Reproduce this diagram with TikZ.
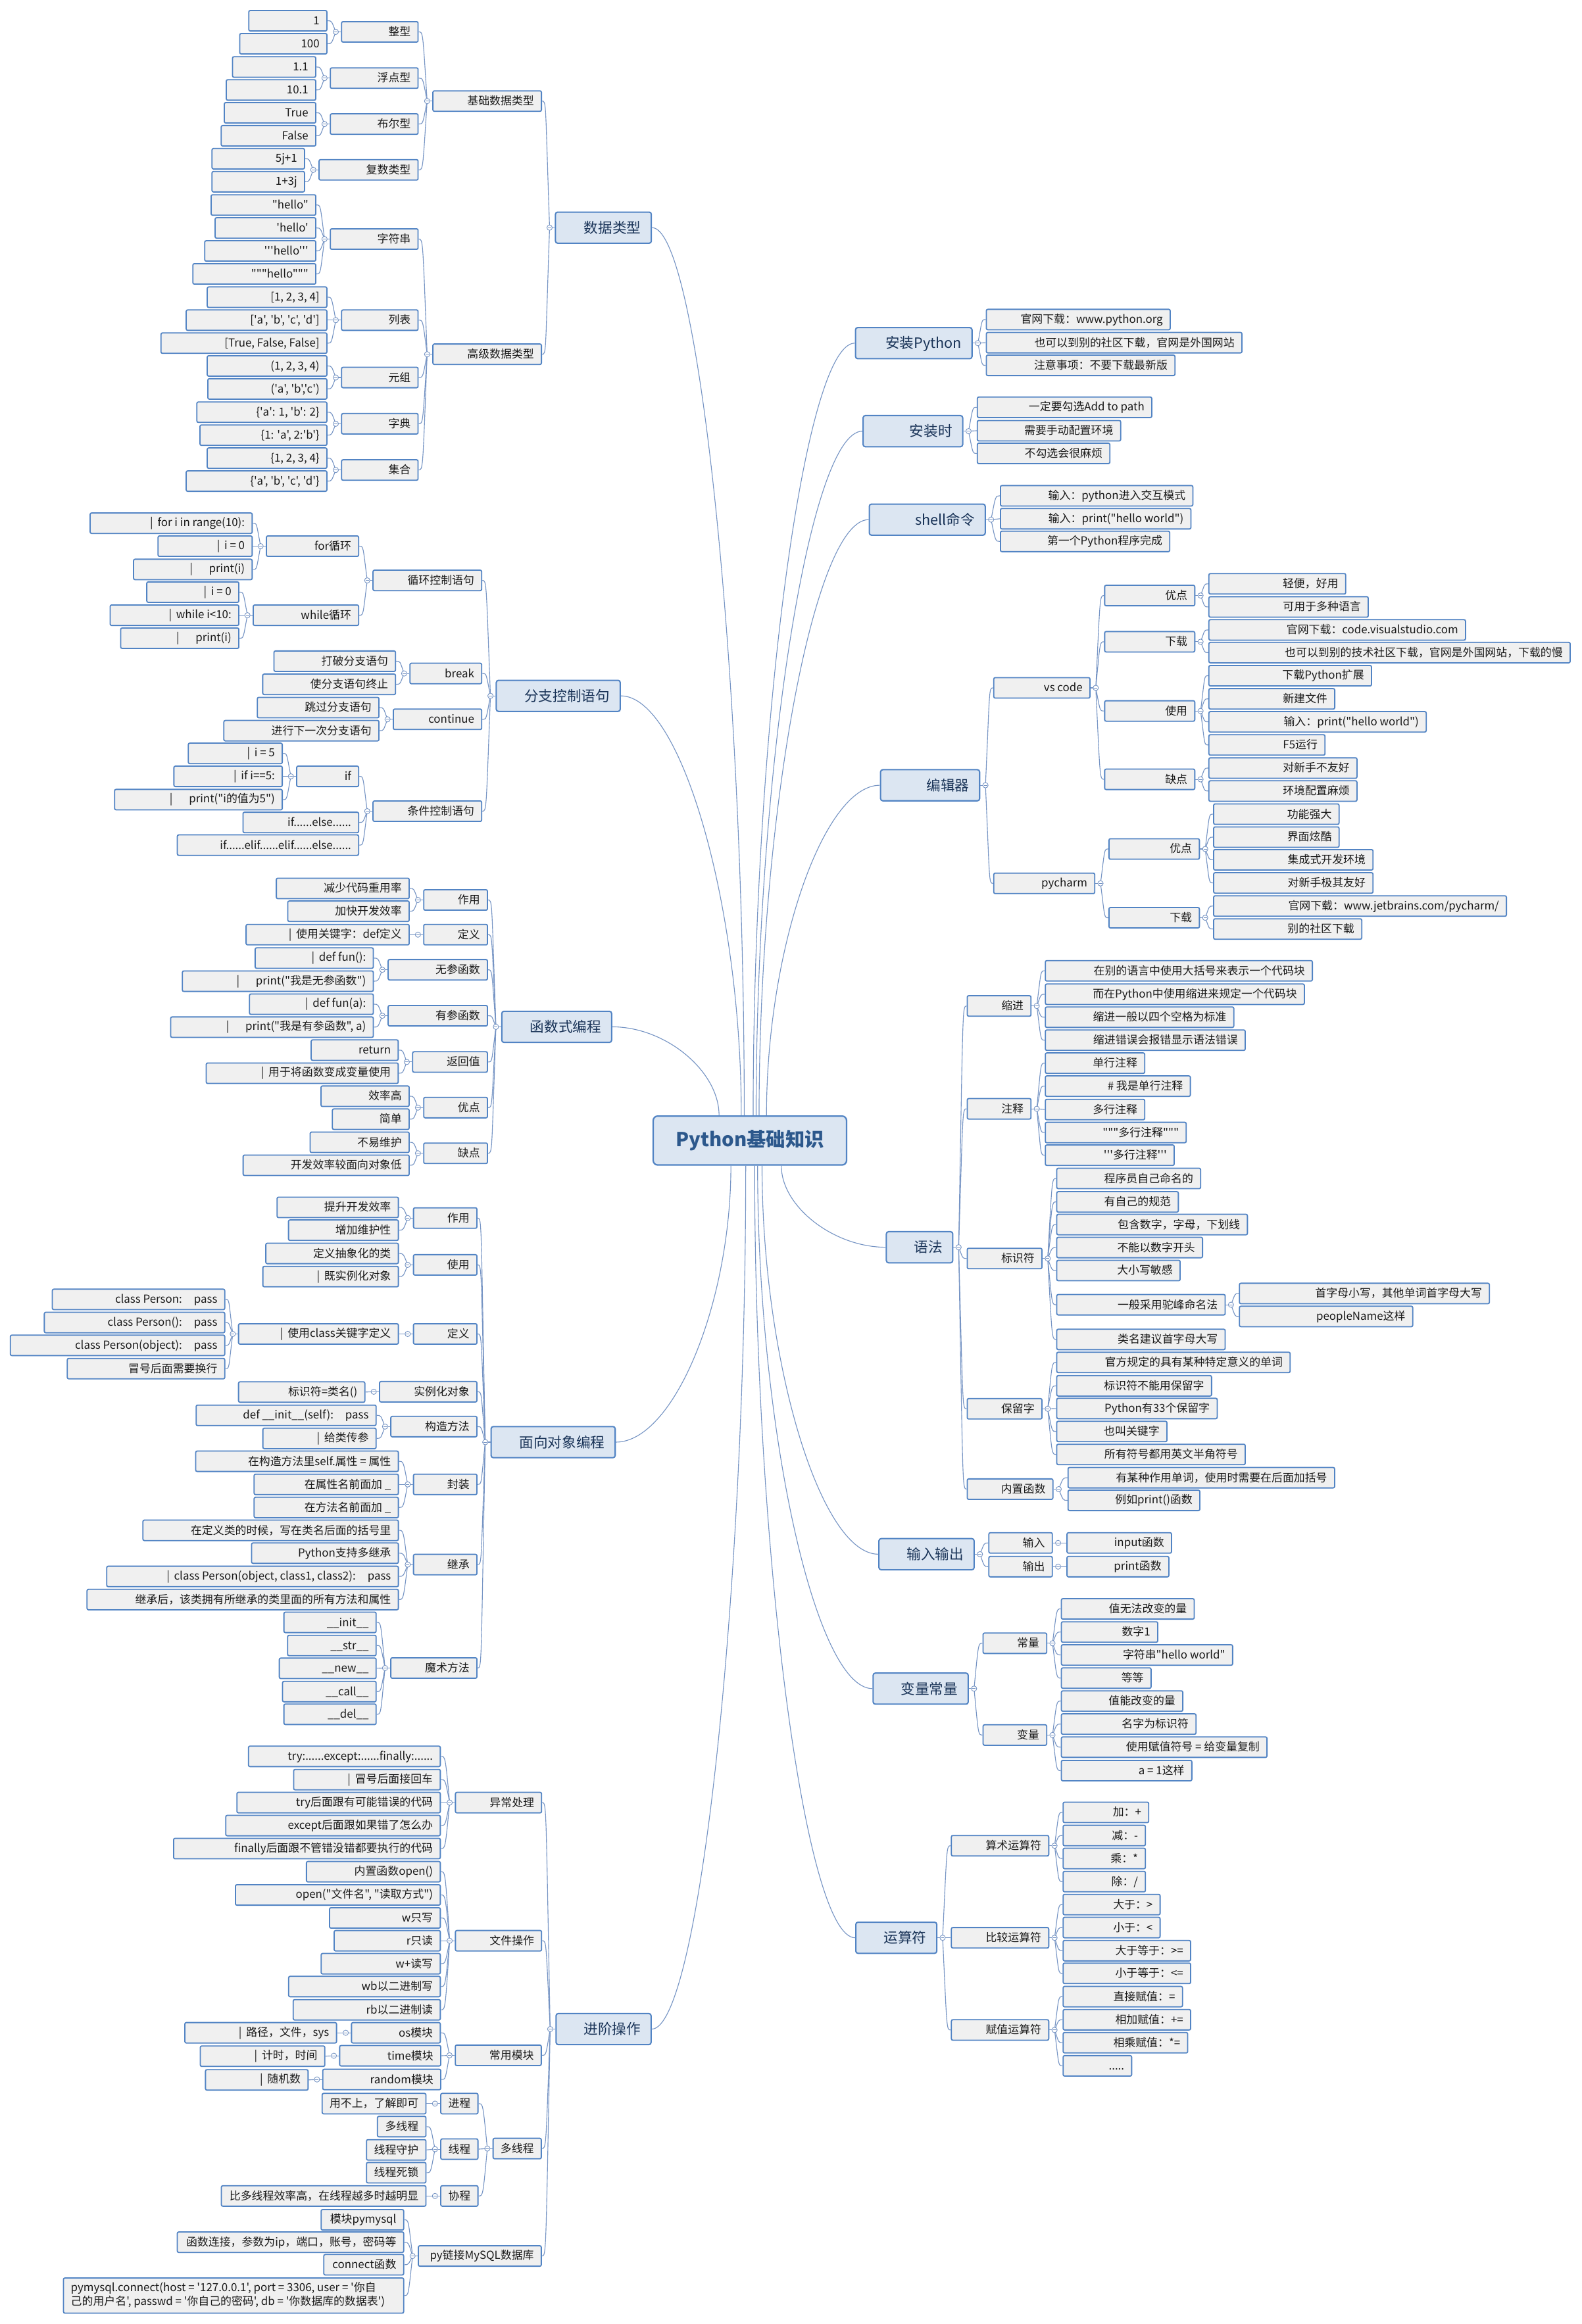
\documentclass[tikz,border=0pt]{standalone}
\usepackage{fontspec}
\newfontfamily\zh{Noto Sans CJK SC}
\usetikzlibrary{calc}
\definecolor{bcol}{RGB}{82,132,196}
\definecolor{gcol}{RGB}{240,240,240}
\definecolor{mcol}{RGB}{220,230,242}
\definecolor{lcol}{RGB}{118,148,196}
\definecolor{tcol}{RGB}{25,25,25}
\definecolor{mtcol}{RGB}{26,52,88}
\definecolor{rtcol}{RGB}{44,88,140}
\tikzset{
  leaf/.style={draw=bcol, fill=gcol, line width=0.8pt, rounded corners=1pt, minimum height=13.8pt,
    inner xsep=5pt, inner ysep=0pt, font=\zh\fontsize{7.5}{9}\selectfont, text=tcol},
  mainb/.style={draw=bcol, fill=mcol, line width=0.9pt, rounded corners=1.5pt, minimum height=21pt,
    inner xsep=7pt, inner ysep=0pt, font=\zh\fontsize{9.6}{11}\selectfont, text=mtcol},
  rootb/.style={draw=bcol, fill=mcol, line width=1pt, rounded corners=3pt, minimum height=33pt,
    minimum width=130.4pt, inner sep=0pt, font=\zh\bfseries\fontsize{13}{15}\selectfont, text=rtcol},
  conn/.style={draw=lcol, line width=0.5pt},
  circ/.style={circle, draw=lcol, fill=white, line width=0.4pt, inner sep=0pt, minimum size=3.6pt,
    path picture={\draw[lcol, line width=0.35pt] ([xshift=-1.1pt]path picture bounding box.center) -- ([xshift=1.1pt]path picture bounding box.center);}}
}
\newcommand\SxL{\rule[-1.2pt]{0pt}{7.7pt}}
\newcommand\SxM{\rule[-1.5pt]{0pt}{10.3pt}}
\newcommand\Cbar{|\hspace{3pt}}
\newcommand\Cbarr{|\hspace{11pt}}
\newcommand\LeafN[5]{\pgfmathsetmacro\tw{#3-#2-10}\node[leaf,anchor=east] (#1) at (#3,#4) {\makebox[\tw pt][r]{\SxL #5}};}
\newcommand\MainN[5]{\pgfmathsetmacro\tw{#3-#2-14}\node[mainb,anchor=east] (#1) at (#3,#4) {\makebox[\tw pt][r]{\SxM #5}};}
\newcommand\KidsL[2]{%
  \path (#1.west) ++(-3.5,0) coordinate (kc);
  \draw[conn] (#1.west) -- (kc);
  \foreach \ch in {#2}{\draw[conn] let \p1=(kc), \p2=(\ch.east) in (\p1) .. controls (\x1-3pt,\y2) and (\x2+3pt,\y2) .. (\p2);}
  \node[circ] at (kc) {};}
\newcommand\KidsR[2]{%
  \path (#1.east) ++(3.5,0) coordinate (kc);
  \draw[conn] (#1.east) -- (kc);
  \foreach \ch in {#2}{\draw[conn] let \p1=(kc), \p2=(\ch.west) in (\p1) .. controls (\x1+3pt,\y2) and (\x2-3pt,\y2) .. (\p2);}
  \node[circ] at (kc) {};}
\newcommand\CenLink[2]{\draw[conn] let \p1=(#1), \p2=(#2) in (\p1) .. controls (\x1,{0.5*\y1+0.5*\y2}) and ({0.5*\x1+0.5*\x2},\y2) .. (\p2);}

\begin{document}
\begin{tikzpicture}[x=1pt,y=-1pt]
\fill[white] (0,0) rectangle (1067,1568);
\useasboundingbox (0,0) rectangle (1067,1568);

% ---------- root ----------
\node[rootb] (root) at (505.8,769.5) {Python基础知识};

% ---------- 数据类型 ----------
\MainN{dt}{375.1}{439.8}{153.6}{数据类型}
\LeafN{dtb}{292.4}{365.6}{68.2}{基础数据类型}
\LeafN{dta}{292.4}{365.6}{239.0}{高级数据类型}
\LeafN{zx}{230.8}{282.4}{21.5}{整型}
\LeafN{fd}{223.2}{282.4}{52.7}{浮点型}
\LeafN{be}{223.2}{282.4}{83.7}{布尔型}
\LeafN{fs}{215.6}{282.4}{114.6}{复数类型}
\LeafN{zf}{223.2}{282.4}{161.3}{字符串}
\LeafN{lb}{230.8}{282.4}{216.0}{列表}
\LeafN{yz}{230.8}{282.4}{254.7}{元组}
\LeafN{zd}{230.8}{282.4}{285.9}{字典}
\LeafN{jh}{230.8}{282.4}{317.1}{集合}
\LeafN{zx1}{168.2}{220.9}{14.0}{1}
\LeafN{zx2}{162.1}{220.9}{29.5}{100}
\LeafN{fd1}{157.2}{213.4}{45.2}{1.1}
\LeafN{fd2}{153.0}{213.4}{60.7}{10.1}
\LeafN{be1}{151.7}{213.4}{76.1}{True}
\LeafN{be2}{149.6}{213.4}{91.6}{False}
\LeafN{fs1}{143.4}{205.8}{107.1}{5j+1}
\LeafN{fs2}{143.4}{205.8}{122.6}{1+3j}
\LeafN{zf1}{142.8}{213.4}{138.3}{"hello"}
\LeafN{zf2}{145.5}{213.4}{153.8}{'hello'}
\LeafN{zf3}{138.5}{213.4}{169.3}{'''hello'''}
\LeafN{zf4}{130.5}{213.4}{184.8}{"""hello"""}
\LeafN{lb1}{140.2}{220.9}{200.5}{[1, 2, 3, 4]}
\LeafN{lb2}{126.0}{220.9}{216.0}{['a', 'b', 'c', 'd']}
\LeafN{lb3}{109.0}{220.9}{231.5}{[True, False, False]}
\LeafN{yz1}{140.2}{220.9}{246.9}{(1, 2, 3, 4)}
\LeafN{yz2}{140.6}{220.9}{262.4}{('a', 'b','c')}
\LeafN{zd1}{133.2}{220.9}{278.1}{\{'a': 1, 'b': 2\}}
\LeafN{zd2}{135.3}{220.9}{293.6}{\{1: 'a', 2:'b'\}}
\LeafN{jh1}{140.2}{220.9}{309.1}{\{1, 2, 3, 4\}}
\LeafN{jh2}{126.0}{220.9}{324.6}{\{'a', 'b', 'c', 'd'\}}

% ---------- 分支控制语句 ----------
\MainN{br}{335.2}{418.8}{469.5}{分支控制语句}
\LeafN{xh}{252.0}{325.3}{391.6}{循环控制语句}
\LeafN{bk}{276.9}{325.3}{454.4}{break}
\LeafN{ct}{265.7}{325.3}{485.3}{continue}
\LeafN{tj}{252.0}{325.3}{547.3}{条件控制语句}
\LeafN{fl}{180.1}{242.3}{368.5}{for循环}
\LeafN{wl}{171.2}{242.3}{415.1}{while循环}
\LeafN{fl1}{61.2}{170.5}{353.0}{\Cbar for i in range(10):}
\LeafN{fl2}{107.0}{170.5}{368.5}{\Cbar i = 0}
\LeafN{fl3}{90.5}{170.5}{384.2}{\Cbarr print(i)}
\LeafN{wl1}{99.4}{161.5}{399.5}{\Cbar i = 0}
\LeafN{wl2}{74.7}{161.5}{415.1}{\Cbar while i<10:}
\LeafN{wl3}{81.8}{161.5}{430.6}{\Cbarr print(i)}
\LeafN{bk1}{185.2}{267.2}{446.1}{打破分支语句}
\LeafN{bk2}{177.6}{267.2}{461.7}{使分支语句终止}
\LeafN{ct1}{174.0}{256.0}{477.4}{跳过分支语句}
\LeafN{ct2}{151.4}{256.0}{493.0}{进行下一次分支语句}
\LeafN{if}{200.5}{242.3}{523.8}{if}
\LeafN{ife}{164.3}{242.3}{554.9}{if......else......}
\LeafN{ifee}{120.0}{242.3}{570.2}{if......elif......elif......else......}
\LeafN{if1}{127.4}{190.8}{508.3}{\Cbar i = 5}
\LeafN{if2}{117.7}{190.8}{523.8}{\Cbar if i==5:}
\LeafN{if3}{77.7}{190.8}{539.5}{\Cbarr print("i的值为5")}

% ---------- 函数式编程 ----------
\MainN{fn}{338.9}{413.0}{692.8}{函数式编程}
\LeafN{fzy}{286.2}{329.2}{607.2}{作用}
\LeafN{fdy}{286.2}{329.2}{630.6}{定义}
\LeafN{fwc}{262.2}{329.2}{654.3}{无参函数}
\LeafN{fyc}{262.2}{329.2}{685.3}{有参函数}
\LeafN{ffh}{278.7}{329.2}{716.5}{返回值}
\LeafN{fyd}{286.2}{329.2}{747.3}{优点}
\LeafN{fqd}{286.2}{329.2}{778.1}{缺点}
\LeafN{fzy1}{186.8}{276.4}{599.4}{减少代码重用率}
\LeafN{fzy2}{194.5}{276.4}{614.8}{加快开发效率}
\LeafN{fdy1}{166.4}{276.4}{630.6}{\Cbar 使用关键字：def定义}
\LeafN{fwc1}{172.5}{252.2}{646.4}{\Cbar def fun():}
\LeafN{fwc2}{123.4}{252.2}{662.0}{\Cbarr print("我是无参函数")}
\LeafN{fyc1}{168.7}{252.2}{677.5}{\Cbar def fun(a):}
\LeafN{fyc2}{115.5}{252.2}{693.0}{\Cbarr print("我是有参函数", a)}
\LeafN{ffh1}{210.3}{269.0}{708.5}{return}
\LeafN{ffh2}{139.5}{269.0}{724.1}{\Cbar 用于将函数变成变量使用}
\LeafN{fyd1}{216.9}{276.4}{739.6}{效率高}
\LeafN{fyd2}{224.6}{276.4}{755.1}{简单}
\LeafN{fqd1}{209.6}{276.4}{770.7}{不易维护}
\LeafN{fqd2}{164.4}{276.4}{786.2}{开发效率较面向对象低}

% ---------- 面向对象编程 ----------
\MainN{oo}{331.7}{415.4}{973.0}{面向对象编程}
\LeafN{ozy}{279.3}{322.1}{821.8}{作用}
\LeafN{osy}{279.3}{322.1}{853.4}{使用}
\LeafN{ody}{279.3}{322.1}{900.0}{定义}
\LeafN{osl}{256.4}{322.1}{939.0}{实例化对象}
\LeafN{ogz}{264.0}{322.1}{962.5}{构造方法}
\LeafN{ofz}{279.3}{322.1}{1001.5}{封装}
\LeafN{ojc}{279.3}{322.1}{1055.6}{继承}
\LeafN{oms}{264.0}{322.1}{1125.4}{魔术方法}
\LeafN{ozy1}{187.3}{269.1}{814.6}{提升开发效率}
\LeafN{ozy2}{195.0}{269.1}{830.0}{增加维护性}
\LeafN{osy1}{179.7}{269.1}{845.7}{定义抽象化的类}
\LeafN{osy2}{177.7}{269.1}{861.3}{\Cbar 既实例化对象}
\LeafN{ody1}{161.3}{269.1}{900.0}{\Cbar 使用class关键字定义}
\LeafN{odya}{35.7}{152.0}{876.7}{class Person:\hspace{8pt}pass}
\LeafN{odyb}{30.3}{152.0}{892.3}{class Person():\hspace{8pt}pass}
\LeafN{odyc}{7.4}{152.0}{907.7}{class Person(object):\hspace{8pt}pass}
\LeafN{odyd}{45.8}{152.0}{923.4}{冒号后面需要换行}
\LeafN{osl1}{161.3}{246.5}{939.2}{标识符=类名()}
\LeafN{ogz1}{132.7}{254.1}{954.9}{def \_\_init\_\_(self):\hspace{8pt}pass}
\LeafN{ogz2}{177.7}{254.1}{970.5}{\Cbar 给类传参}
\LeafN{ofz1}{132.4}{269.1}{985.9}{在构造方法里self.属性 = 属性}
\LeafN{ofz2}{171.8}{269.1}{1001.5}{在属性名前面加 \_}
\LeafN{ofz3}{171.8}{269.1}{1017.1}{在方法名前面加 \_}
\LeafN{ojc1}{96.8}{269.1}{1032.5}{在定义类的时候，写在类名后面的括号里}
\LeafN{ojc2}{170.1}{269.1}{1047.9}{Python支持多继承}
\LeafN{ojc3}{72.4}{269.1}{1063.6}{\Cbar class Person(object, class1, class2):\hspace{8pt}pass}
\LeafN{ojc4}{59.1}{269.1}{1079.2}{继承后，该类拥有所继承的类里面的所有方法和属性}
\LeafN{oms1}{191.9}{254.1}{1094.6}{\_\_init\_\_}
\LeafN{oms2}{194.4}{254.1}{1110.2}{\_\_str\_\_}
\LeafN{oms3}{188.8}{254.1}{1125.6}{\_\_new\_\_}
\LeafN{oms4}{191.0}{254.1}{1141.3}{\_\_call\_\_}
\LeafN{oms5}{191.9}{254.1}{1156.6}{\_\_del\_\_}

% ---------- 进阶操作 ----------
\MainN{ad}{375.5}{439.6}{1369.0}{进阶操作}
\LeafN{ayc}{307.6}{365.7}{1216.2}{异常处理}
\LeafN{awj}{307.6}{365.7}{1309.4}{文件操作}
\LeafN{acy}{307.5}{365.5}{1386.7}{常用模块}
\LeafN{adx}{333.0}{365.5}{1449.6}{多线程}
\LeafN{asql}{282.6}{365.5}{1522.1}{py链接MySQL数据库}
\LeafN{ayc1}{168.0}{297.4}{1185.0}{try:......except:......finally:......}
\LeafN{ayc2}{198.5}{297.4}{1200.7}{\Cbar 冒号后面接回车}
\LeafN{ayc3}{160.2}{297.4}{1216.2}{try后面跟有可能错误的代码}
\LeafN{ayc4}{152.7}{297.4}{1231.7}{except后面跟如果错了怎么办}
\LeafN{ayc5}{117.5}{297.4}{1247.2}{finally后面跟不管错没错都要执行的代码}
\LeafN{awj1}{207.1}{297.4}{1262.8}{内置函数open()}
\LeafN{awj2}{159.2}{297.4}{1278.5}{open("文件名", "读取方式")}
\LeafN{awj3}{222.7}{297.4}{1294.0}{w只写}
\LeafN{awj4}{225.8}{297.4}{1309.4}{r只读}
\LeafN{awj5}{217.0}{297.4}{1324.9}{w+读写}
\LeafN{awj6}{195.1}{297.4}{1340.3}{wb以二进制写}
\LeafN{awj7}{198.2}{297.4}{1356.0}{rb以二进制读}
\LeafN{aos}{237.5}{297.4}{1371.5}{os模块}
\LeafN{aos1}{125.1}{227.4}{1371.5}{\Cbar 路径，文件，sys}
\LeafN{atm}{229.5}{297.7}{1387.0}{time模块}
\LeafN{atm1}{135.5}{219.5}{1387.3}{\Cbar 计时，时间}
\LeafN{arn}{218.1}{297.7}{1403.0}{random模块}
\LeafN{arn1}{139.0}{208.2}{1403.3}{\Cbar 随机数}
\LeafN{ajc}{297.7}{322.8}{1419.3}{进程}
\LeafN{ajc1}{217.7}{287.7}{1419.3}{用不上，了解即可}
\LeafN{axc}{297.7}{322.8}{1450.0}{线程}
\LeafN{axc1}{255.0}{287.7}{1434.8}{多线程}
\LeafN{axc2}{247.6}{287.7}{1450.5}{线程守护}
\LeafN{axc3}{247.6}{287.7}{1465.9}{线程死锁}
\LeafN{axcc}{297.7}{322.8}{1481.6}{协程}
\LeafN{axcc1}{149.7}{287.7}{1481.6}{比多线程效率高，在线程越多时越明显}
\LeafN{asql1}{217.0}{272.7}{1497.7}{模块pymysql}
\LeafN{asql2}{120.0}{272.7}{1512.8}{函数连接，参数为ip，端口，账号，密码等}
\LeafN{asql3}{218.8}{272.7}{1528.0}{connect函数}
\node[leaf, anchor=east, minimum height=23.7pt] (asql4) at (272.7,1548.8)
  {\makebox[219.5pt][l]{\fontsize{7.5}{9.6}\selectfont\begin{tabular}{@{}l@{}}pymysql.connect(host = '127.0.0.1', port = 3306, user = '你自\\己的用户名', passwd = '你自己的密码', db = '你数据库的数据表')\end{tabular}}};

% ---------- right side ----------
\MainN{ip}{577.5}{656.1}{231.5}{安装Python}
\LeafN{ip1}{665.7}{789.7}{215.6}{官网下载：www.python.org}
\LeafN{ip2}{665.7}{838.1}{231.2}{也可以到别的社区下载，官网是外国网站}
\LeafN{ip3}{665.7}{792.9}{246.5}{注意事项：不要下载最新版}
\MainN{is}{582.6}{649.8}{290.9}{安装时}
\LeafN{is1}{659.6}{777.3}{274.8}{一定要勾选Add to path}
\LeafN{is2}{659.6}{756.3}{290.6}{需要手动配置环境}
\LeafN{is3}{659.6}{749.0}{305.9}{不勾选会很麻烦}
\MainN{sh}{586.8}{665.0}{350.6}{shell命令}
\LeafN{sh1}{675.2}{805.0}{334.5}{输入：python进入交互模式}
\LeafN{sh2}{675.2}{803.7}{350.0}{输入：print("hello world")}
\LeafN{sh3}{675.2}{789.4}{365.3}{第一个Python程序完成}
\MainN{ed}{594.4}{661.2}{529.8}{编辑器}
\LeafN{vs}{670.7}{735.6}{464.1}{vs code}
\LeafN{pc}{670.7}{738.8}{596.0}{pycharm}
\LeafN{vyd}{745.5}{806.3}{401.8}{优点}
\LeafN{vxz}{745.5}{806.3}{433.0}{下载}
\LeafN{vsy}{745.5}{806.3}{479.7}{使用}
\LeafN{vqd}{745.5}{806.3}{525.8}{缺点}
\LeafN{vyd1}{815.8}{908.1}{393.9}{轻便，好用}
\LeafN{vyd2}{815.8}{923.3}{409.5}{可用于多种语言}
\LeafN{vxz1}{815.8}{988.9}{425.0}{官网下载：code.visualstudio.com}
\LeafN{vxz2}{815.8}{1059.5}{440.3}{也可以到别的技术社区下载，官网是外国网站，下载的慢}
\LeafN{vsy1}{815.8}{925.5}{455.9}{下载Python扩展}
\LeafN{vsy2}{815.8}{900.7}{471.5}{新建文件}
\LeafN{vsy3}{815.8}{962.4}{487.0}{输入：print("hello world")}
\LeafN{vsy4}{815.8}{894.1}{502.6}{F5运行}
\LeafN{vqd1}{815.8}{915.7}{518.2}{对新手不友好}
\LeafN{vqd2}{815.8}{915.7}{533.7}{环境配置麻烦}
\LeafN{pyd}{748.4}{809.4}{572.8}{优点}
\LeafN{pxz}{748.4}{809.4}{619.2}{下载}
\LeafN{pyd1}{819.0}{903.6}{549.3}{功能强大}
\LeafN{pyd2}{819.0}{903.6}{564.8}{界面炫酷}
\LeafN{pyd3}{819.0}{926.5}{580.1}{集成式开发环境}
\LeafN{pyd4}{819.0}{926.5}{595.7}{对新手极其友好}
\LeafN{pxz1}{819.0}{1016.5}{611.3}{官网下载：www.jetbrains.com/pycharm/}
\LeafN{pxz2}{819.0}{918.9}{626.8}{别的社区下载}

\MainN{yf}{598.3}{643.1}{841.5}{语法}
\LeafN{ysj}{652.8}{695.8}{678.7}{缩进}
\LeafN{yzs}{652.8}{695.8}{748.1}{注释}
\LeafN{ybs}{652.8}{703.2}{849.1}{标识符}
\LeafN{ybl}{652.8}{703.2}{950.5}{保留字}
\LeafN{ynz}{652.8}{710.6}{1004.7}{内置函数}
\LeafN{ysj1}{705.5}{885.6}{655.0}{在别的语言中使用大括号来表示一个代码块}
\LeafN{ysj2}{705.5}{880.2}{670.8}{而在Python中使用缩进来规定一个代码块}
\LeafN{ysj3}{705.5}{832.6}{686.3}{缩进一般以四个空格为标准}
\LeafN{ysj4}{705.5}{840.3}{701.8}{缩进错误会报错显示语法错误}
\LeafN{yzs1}{705.5}{772.5}{717.3}{单行注释}
\LeafN{yzs2}{705.5}{803.3}{732.8}{\# 我是单行注释}
\LeafN{yzs3}{705.5}{772.5}{748.6}{多行注释}
\LeafN{yzs4}{705.5}{800.5}{764.1}{"""多行注释"""}
\LeafN{yzs5}{705.5}{792.4}{779.4}{'''多行注释'''}
\LeafN{ybs1}{713.2}{810.2}{795.1}{程序员自己命名的}
\LeafN{ybs2}{713.2}{795.2}{810.9}{有自己的规范}
\LeafN{ybs3}{713.2}{841.8}{826.2}{包含数字，字母，下划线}
\LeafN{ybs4}{713.2}{811.5}{841.7}{不能以数字开头}
\LeafN{ybs5}{713.2}{796.4}{857.2}{大小写敏感}
\LeafN{ybs6}{713.2}{826.8}{880.3}{一般采用驼峰命名法}
\LeafN{ybs7}{713.2}{826.8}{903.7}{类名建议首字母大写}
\LeafN{ytf1}{836.4}{1005.0}{872.7}{首字母小写，其他单词首字母大写}
\LeafN{ytf2}{836.4}{953.3}{888.2}{peopleName这样}
\LeafN{ybl1}{713.2}{870.6}{919.2}{官方规定的具有某种特定意义的单词}
\LeafN{ybl2}{713.2}{817.6}{935.0}{标识符不能用保留字}
\LeafN{ybl3}{713.2}{821.4}{950.3}{Python有33个保留字}
\LeafN{ybl4}{713.2}{787.5}{965.8}{也叫关键字}
\LeafN{ybl5}{713.2}{840.3}{981.3}{所有符号都用英文半角符号}
\LeafN{ynz1}{720.8}{900.6}{997.0}{有某种作用单词，使用时需要在后面加括号}
\LeafN{ynz2}{720.8}{809.7}{1012.3}{例如print()函数}

\MainN{io}{593.3}{657.5}{1048.6}{输入输出}
\LeafN{ioi}{667.4}{710.2}{1041.0}{输入}
\LeafN{ioo}{667.4}{710.2}{1057.0}{输出}
\LeafN{ioi1}{720.1}{790.6}{1041.0}{input函数}
\LeafN{ioo1}{720.1}{788.8}{1057.0}{print函数}

\MainN{vc}{589.4}{653.5}{1139.3}{变量常量}
\LeafN{vcc}{663.5}{706.4}{1108.7}{常量}
\LeafN{vcv}{663.5}{706.4}{1170.6}{变量}
\LeafN{vcc1}{716.3}{805.9}{1085.5}{值无法改变的量}
\LeafN{vcc2}{716.3}{781.3}{1101.1}{数字1}
\LeafN{vcc3}{716.3}{831.8}{1116.6}{字符串"hello world"}
\LeafN{vcc4}{716.3}{776.8}{1132.2}{等等}
\LeafN{vcv1}{716.3}{798.2}{1147.7}{值能改变的量}
\LeafN{vcv2}{716.3}{807.1}{1163.2}{名字为标识符}
\LeafN{vcv3}{716.3}{855.0}{1178.8}{使用赋值符号 = 给变量复制}
\LeafN{vcv4}{716.3}{804.3}{1194.6}{a = 1这样}

\MainN{op}{577.7}{632.3}{1307.4}{运算符}
\LeafN{opa}{642.1}{707.8}{1245.3}{算术运算符}
\LeafN{opb}{642.1}{707.8}{1307.4}{比较运算符}
\LeafN{opc}{642.1}{707.8}{1369.6}{赋值运算符}
\LeafN{opa1}{717.5}{775.2}{1222.8}{加：+}
\LeafN{opa2}{717.5}{773.0}{1238.4}{减：-}
\LeafN{opa3}{717.5}{773.0}{1253.9}{乘：*}
\LeafN{opa4}{717.5}{773.0}{1269.5}{除：/}
\LeafN{opb1}{717.5}{782.9}{1285.0}{大于：>}
\LeafN{opb2}{717.5}{782.9}{1300.5}{小于：<}
\LeafN{opb3}{717.5}{803.5}{1316.1}{大于等于：>=}
\LeafN{opb4}{717.5}{803.5}{1331.4}{小于等于：<=}
\LeafN{opc1}{717.5}{798.0}{1347.1}{直接赋值：=}
\LeafN{opc2}{717.5}{803.5}{1362.7}{相加赋值：+=}
\LeafN{opc3}{717.5}{801.5}{1378.2}{相乘赋值：*=}
\LeafN{opc4}{717.5}{763.7}{1393.8}{.....}

% ---------- connectors ----------
\KidsL{dt}{dtb,dta}
\KidsL{dtb}{zx,fd,be,fs}
\KidsL{dta}{zf,lb,yz,zd,jh}
\KidsL{zx}{zx1,zx2}
\KidsL{fd}{fd1,fd2}
\KidsL{be}{be1,be2}
\KidsL{fs}{fs1,fs2}
\KidsL{zf}{zf1,zf2,zf3,zf4}
\KidsL{lb}{lb1,lb2,lb3}
\KidsL{yz}{yz1,yz2}
\KidsL{zd}{zd1,zd2}
\KidsL{jh}{jh1,jh2}

\KidsL{br}{xh,bk,ct,tj}
\KidsL{xh}{fl,wl}
\KidsL{fl}{fl1,fl2,fl3}
\KidsL{wl}{wl1,wl2,wl3}
\KidsL{bk}{bk1,bk2}
\KidsL{ct}{ct1,ct2}
\KidsL{tj}{if,ife,ifee}
\KidsL{if}{if1,if2,if3}

\KidsL{fn}{fzy,fdy,fwc,fyc,ffh,fyd,fqd}
\KidsL{fzy}{fzy1,fzy2}
\KidsL{fdy}{fdy1}
\KidsL{fwc}{fwc1,fwc2}
\KidsL{fyc}{fyc1,fyc2}
\KidsL{ffh}{ffh1,ffh2}
\KidsL{fyd}{fyd1,fyd2}
\KidsL{fqd}{fqd1,fqd2}

\KidsL{oo}{ozy,osy,ody,osl,ogz,ofz,ojc,oms}
\KidsL{ozy}{ozy1,ozy2}
\KidsL{osy}{osy1,osy2}
\KidsL{ody}{ody1}
\KidsL{ody1}{odya,odyb,odyc,odyd}
\KidsL{osl}{osl1}
\KidsL{ogz}{ogz1,ogz2}
\KidsL{ofz}{ofz1,ofz2,ofz3}
\KidsL{ojc}{ojc1,ojc2,ojc3,ojc4}
\KidsL{oms}{oms1,oms2,oms3,oms4,oms5}

\KidsL{ad}{ayc,awj,acy,adx,asql}
\KidsL{ayc}{ayc1,ayc2,ayc3,ayc4,ayc5}
\KidsL{awj}{awj1,awj2,awj3,awj4,awj5,awj6,awj7}
\KidsL{acy}{aos,atm,arn}
\KidsL{aos}{aos1}
\KidsL{atm}{atm1}
\KidsL{arn}{arn1}
\KidsL{adx}{ajc,axc,axcc}
\KidsL{ajc}{ajc1}
\KidsL{axc}{axc1,axc2,axc3}
\KidsL{axcc}{axcc1}
\KidsL{asql}{asql1,asql2,asql3,asql4}

\KidsR{ip}{ip1,ip2,ip3}
\KidsR{is}{is1,is2,is3}
\KidsR{sh}{sh1,sh2,sh3}
\KidsR{ed}{vs,pc}
\KidsR{vs}{vyd,vxz,vsy,vqd}
\KidsR{vyd}{vyd1,vyd2}
\KidsR{vxz}{vxz1,vxz2}
\KidsR{vsy}{vsy1,vsy2,vsy3,vsy4}
\KidsR{vqd}{vqd1,vqd2}
\KidsR{pc}{pyd,pxz}
\KidsR{pyd}{pyd1,pyd2,pyd3,pyd4}
\KidsR{pxz}{pxz1,pxz2}

\KidsR{yf}{ysj,yzs,ybs,ybl,ynz}
\KidsR{ysj}{ysj1,ysj2,ysj3,ysj4}
\KidsR{yzs}{yzs1,yzs2,yzs3,yzs4,yzs5}
\KidsR{ybs}{ybs1,ybs2,ybs3,ybs4,ybs5,ybs6,ybs7}
\KidsR{ybs6}{ytf1,ytf2}
\KidsR{ybl}{ybl1,ybl2,ybl3,ybl4,ybl5}
\KidsR{ynz}{ynz1,ynz2}

\KidsR{io}{ioi,ioo}
\KidsR{ioi}{ioi1}
\KidsR{ioo}{ioo1}
\KidsR{vc}{vcc,vcv}
\KidsR{vcc}{vcc1,vcc2,vcc3,vcc4}
\KidsR{vcv}{vcv1,vcv2,vcv3,vcv4}
\KidsR{op}{opa,opb,opc}
\KidsR{opa}{opa1,opa2,opa3,opa4}
\KidsR{opb}{opb1,opb2,opb3,opb4}
\KidsR{opc}{opc1,opc2,opc3,opc4}

% ---------- root links ----------
\coordinate (sdt) at ([xshift=-3.8pt]root.north);
\coordinate (sbr) at ([xshift=-5.8pt]root.north);
\coordinate (sfn) at ([xshift=-20.8pt]root.north);
\coordinate (sip) at ([xshift=2.2pt]root.north);
\coordinate (sis) at ([xshift=4.2pt]root.north);
\coordinate (ssh) at ([xshift=6.2pt]root.north);
\coordinate (sed) at ([xshift=11.2pt]root.north);
\coordinate (soo) at ([xshift=-12.8pt]root.south);
\coordinate (sad) at ([xshift=-2.8pt]root.south);
\coordinate (sop) at ([xshift=3.2pt]root.south);
\coordinate (svc) at ([xshift=5.2pt]root.south);
\coordinate (sio) at ([xshift=8.2pt]root.south);
\coordinate (syf) at ([xshift=21.2pt]root.south);
\CenLink{sdt}{dt.east}
\CenLink{sbr}{br.east}
\CenLink{sfn}{fn.east}
\CenLink{sip}{ip.west}
\CenLink{sis}{is.west}
\CenLink{ssh}{sh.west}
\CenLink{sed}{ed.west}
\CenLink{soo}{oo.east}
\CenLink{sad}{ad.east}
\CenLink{sop}{op.west}
\CenLink{svc}{vc.west}
\CenLink{sio}{io.west}
\CenLink{syf}{yf.west}
\end{tikzpicture}
\end{document}
